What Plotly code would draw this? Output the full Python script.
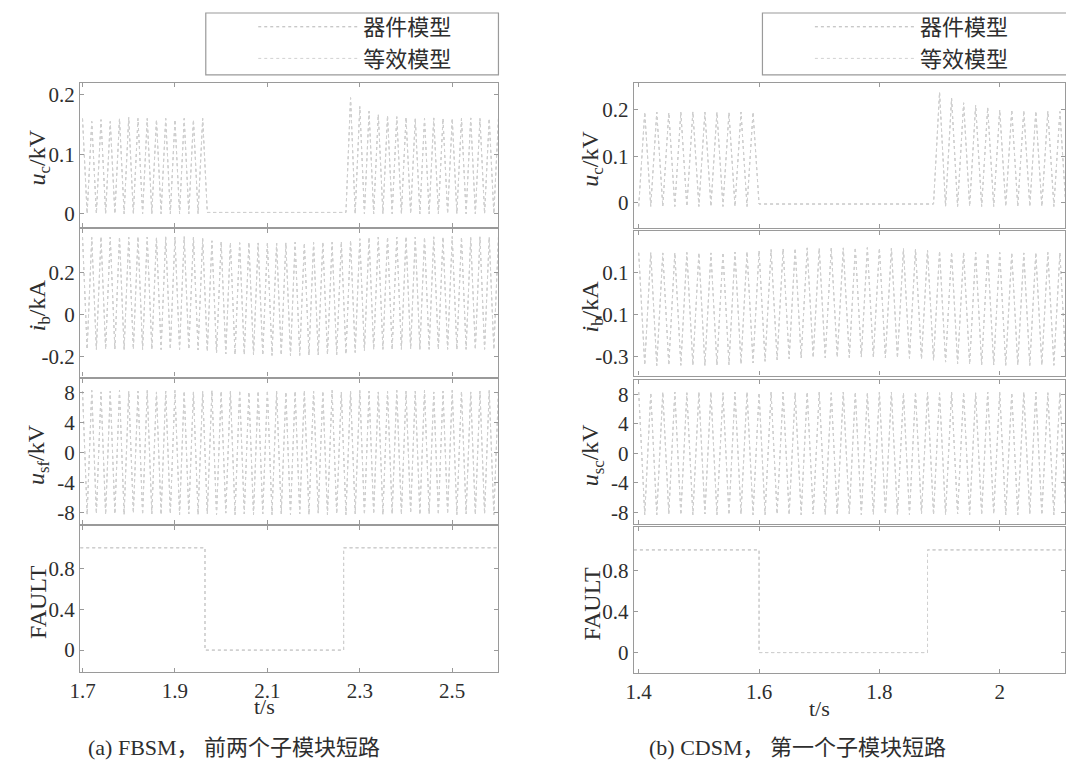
import plotly.graph_objects as go

W, H = 1066, 761

# ---------------- data ----------------
# (a) FBSM : time grid (s), half-cycle samples (peaks / troughs)
t_a = [1.70, 1.71, 1.72, 1.73, 1.74, 1.75, 1.76, 1.77, 1.78, 1.79,
       1.80, 1.81, 1.82, 1.83, 1.84, 1.85, 1.86, 1.87, 1.88, 1.89,
       1.90, 1.91, 1.92, 1.93, 1.94, 1.95, 1.96, 1.97, 1.98, 1.99,
       2.00, 2.01, 2.02, 2.03, 2.04, 2.05, 2.06, 2.07, 2.08, 2.09,
       2.10, 2.11, 2.12, 2.13, 2.14, 2.15, 2.16, 2.17, 2.18, 2.19,
       2.20, 2.21, 2.22, 2.23, 2.24, 2.25, 2.26, 2.27, 2.28, 2.29,
       2.30, 2.31, 2.32, 2.33, 2.34, 2.35, 2.36, 2.37, 2.38, 2.39,
       2.40, 2.41, 2.42, 2.43, 2.44, 2.45, 2.46, 2.47, 2.48, 2.49,
       2.50, 2.51, 2.52, 2.53, 2.54, 2.55, 2.56, 2.57, 2.58, 2.59,
       2.60]
uc_a = [0.160, 0, 0.155, 0, 0.158, 0, 0.155, 0, 0.160, 0,
        0.162, 0, 0.160, 0, 0.160, 0, 0.158, 0, 0.160, 0,
        0.158, 0, 0.160, 0, 0.158, 0, 0.160, 0.002, 0.002, 0.002,
        0.002, 0.002, 0.002, 0.002, 0.002, 0.002, 0.002, 0.002, 0.002, 0.002,
        0.002, 0.002, 0.002, 0.002, 0.002, 0.002, 0.002, 0.002, 0.002, 0.002,
        0.002, 0.002, 0.002, 0.002, 0.002, 0.002, 0.002, 0.002, 0.195, 0,
        0.180, 0, 0.172, 0, 0.167, 0, 0.165, 0, 0.163, 0,
        0.162, 0, 0.160, 0, 0.160, 0, 0.161, 0, 0.160, 0,
        0.160, 0, 0.160, 0, 0.161, 0, 0.160, 0, 0.160, 0,
        0.160]
ib_a = [0.370, -0.165, 0.368, -0.166, 0.372, -0.165, 0.370, -0.164, 0.371, -0.166,
        0.369, -0.165, 0.372, -0.166, 0.370, -0.165, 0.368, -0.166, 0.371, -0.165,
        0.370, -0.166, 0.372, -0.165, 0.370, -0.168, 0.365, -0.175, 0.352, -0.183,
        0.348, -0.187, 0.345, -0.190, 0.343, -0.191, 0.345, -0.192, 0.342, -0.193,
        0.344, -0.194, 0.341, -0.193, 0.343, -0.195, 0.345, -0.194, 0.342, -0.193,
        0.344, -0.192, 0.346, -0.190, 0.345, -0.191, 0.348, -0.188, 0.355, -0.180,
        0.362, -0.172, 0.368, -0.167, 0.370, -0.165, 0.371, -0.166, 0.370, -0.165,
        0.372, -0.164, 0.370, -0.166, 0.369, -0.165, 0.371, -0.166, 0.370, -0.165,
        0.372, -0.166, 0.370, -0.165, 0.368, -0.166, 0.371, -0.165, 0.370, -0.166,
        0.370]
usf_a = [8.2, -8.3, 8.3, -8.2, 8.1, -8.3, 8.2, -8.2, 8.3, -8.3,
         8.2, -8.1, 8.2, -8.3, 8.3, -8.2, 8.1, -8.3, 8.2, -8.2,
         8.3, -8.3, 8.2, -8.2, 8.1, -8.3, 8.2, -8.2, 8.3, -8.3,
         8.2, -8.1, 8.2, -8.3, 8.3, -8.2, 8.1, -8.3, 8.2, -8.2,
         8.3, -8.3, 8.2, -8.2, 8.1, -8.3, 8.2, -8.2, 8.3, -8.3,
         8.2, -8.1, 8.2, -8.3, 8.3, -8.2, 8.1, -8.3, 8.2, -8.2,
         8.3, -8.3, 8.2, -8.2, 8.1, -8.3, 8.2, -8.2, 8.3, -8.3,
         8.2, -8.1, 8.2, -8.3, 8.3, -8.2, 8.1, -8.3, 8.2, -8.2,
         8.3, -8.3, 8.2, -8.2, 8.1, -8.3, 8.2, -8.2, 8.3, -8.3,
         8.2]
fault_t_a = [1.695, 1.965, 1.965, 2.265, 2.265, 2.600]
fault_v_a = [1, 1, 0, 0, 1, 1]

# (b) CDSM
t_b = [1.40, 1.41, 1.42, 1.43, 1.44, 1.45, 1.46, 1.47, 1.48, 1.49,
       1.50, 1.51, 1.52, 1.53, 1.54, 1.55, 1.56, 1.57, 1.58, 1.59,
       1.60, 1.61, 1.62, 1.63, 1.64, 1.65, 1.66, 1.67, 1.68, 1.69,
       1.70, 1.71, 1.72, 1.73, 1.74, 1.75, 1.76, 1.77, 1.78, 1.79,
       1.80, 1.81, 1.82, 1.83, 1.84, 1.85, 1.86, 1.87, 1.88, 1.89,
       1.90, 1.91, 1.92, 1.93, 1.94, 1.95, 1.96, 1.97, 1.98, 1.99,
       2.00, 2.01, 2.02, 2.03, 2.04, 2.05, 2.06, 2.07, 2.08, 2.09,
       2.10, 2.11]
uc_b = [-0.008, 0.195, -0.008, 0.195, -0.008, 0.194, -0.008, 0.195, -0.008, 0.196,
        -0.008, 0.195, -0.008, 0.195, -0.008, 0.194, -0.008, 0.195, -0.008, 0.195,
        -0.003, -0.003, -0.003, -0.003, -0.003, -0.003, -0.003, -0.003, -0.003, -0.003,
        -0.003, -0.003, -0.003, -0.003, -0.003, -0.003, -0.003, -0.003, -0.003, -0.003,
        -0.003, -0.003, -0.003, -0.003, -0.003, -0.003, -0.003, -0.003, -0.003, -0.003,
        0.238, -0.008, 0.225, -0.008, 0.215, -0.008, 0.210, -0.008, 0.205, -0.008,
        0.200, -0.008, 0.200, -0.008, 0.198, -0.008, 0.197, -0.008, 0.197, -0.008,
        0.196, -0.008]
ib_b = [0.195, -0.340, 0.196, -0.342, 0.194, -0.340, 0.195, -0.341, 0.196, -0.340,
        0.195, -0.342, 0.194, -0.340, 0.196, -0.338, 0.198, -0.335, 0.200, -0.330,
        0.205, -0.322, 0.210, -0.315, 0.214, -0.310, 0.216, -0.306, 0.218, -0.304,
        0.217, -0.305, 0.219, -0.303, 0.218, -0.304, 0.220, -0.302, 0.219, -0.303,
        0.218, -0.305, 0.217, -0.306, 0.215, -0.308, 0.212, -0.312, 0.208, -0.318,
        0.203, -0.326, 0.199, -0.333, 0.197, -0.337, 0.196, -0.339, 0.195, -0.340,
        0.196, -0.341, 0.195, -0.340, 0.194, -0.342, 0.195, -0.340, 0.196, -0.341,
        0.195, -0.340]
usc_b = [8.3, -8.3, 8.2, -8.3, 8.3, -8.2, 8.3, -8.3, 8.2, -8.3,
         8.3, -8.2, 8.3, -8.3, 8.2, -8.3, 8.3, -8.2, 8.3, -8.3,
         8.2, -8.3, 8.3, -8.2, 8.3, -8.3, 8.2, -8.3, 8.3, -8.2,
         8.3, -8.3, 8.2, -8.3, 8.3, -8.2, 8.3, -8.3, 8.2, -8.3,
         8.3, -8.2, 8.3, -8.3, 8.2, -8.3, 8.3, -8.2, 8.3, -8.3,
         8.2, -8.3, 8.3, -8.2, 8.3, -8.3, 8.2, -8.3, 8.3, -8.2,
         8.3, -8.3, 8.2, -8.3, 8.3, -8.2, 8.3, -8.3, 8.2, -8.3,
         8.3, -8.2]
fault_t_b = [1.392, 1.600, 1.600, 1.880, 1.880, 2.110]
fault_v_b = [1, 1, 0, 0, 1, 1]

series_names = ["器件模型", "等效模型"]

# tick labels
xt_a = [1.7, 1.9, 2.1, 2.3, 2.5]
xt_a_txt = ["1.7", "1.9", "2.1", "2.3", "2.5"]
xt_b = [1.4, 1.6, 1.8, 2.0]
xt_b_txt = ["1.4", "1.6", "1.8", "2"]
yt_uc = [0, 0.1, 0.2]
yt_uc_txt = ["0", "0.1", "0.2"]
yt_ib_a = [-0.2, 0, 0.2]
yt_ib_a_txt = ["-0.2", "0", "0.2"]
yt_ib_b = [-0.3, -0.1, 0.1]
yt_ib_b_txt = ["-0.3", "-0.1", "0.1"]
yt_us = [-8, -4, 0, 4, 8]
yt_us_txt = ["-8", "-4", "0", "4", "8"]
yt_f = [0, 0.4, 0.8]
yt_f_txt = ["0", "0.4", "0.8"]

# ---------------- styling / layout ----------------
SERIF = "Liberation Serif"
CJK = "Liberation Serif, Noto Sans CJK SC"
TXT = "#2e2e2e"
FRAME = "#9a9a9a"
C_DEV = "#b3b3b3"
C_EQ = "#d2d2d2"


def ydom(top, bottom):
    return [1 - bottom / H, 1 - top / H]


panels = [
    # side, x, y, yrange, yticks, yticktext, ydomain(px), ylabel
    ("a", t_a, uc_a, [-0.022, 0.22], yt_uc, yt_uc_txt, (83, 227), "<i>u</i><sub>c</sub>/kV"),
    ("a", t_a, ib_a, [-0.295, 0.41], yt_ib_a, yt_ib_a_txt, (229, 377), "<i>i</i><sub>b</sub>/kA"),
    ("a", t_a, usf_a, [-9.6, 9.9], yt_us, yt_us_txt, (379, 525), "<i>u</i><sub>sf</sub>/kV"),
    ("a", fault_t_a, fault_v_a, [-0.215, 1.21], yt_f, yt_f_txt, (527, 673), "FAULT"),
    ("b", t_b, uc_b, [-0.054, 0.258], yt_uc, yt_uc_txt, (83, 228), "<i>u</i><sub>c</sub>/kV"),
    ("b", t_b, ib_b, [-0.39, 0.30], yt_ib_b, yt_ib_b_txt, (231, 376), "<i>i</i><sub>b</sub>/kA"),
    ("b", t_b, usc_b, [-9.6, 10.0], yt_us, yt_us_txt, (380, 525), "<i>u</i><sub>sc</sub>/kV"),
    ("b", fault_t_b, fault_v_b, [-0.2, 1.22], yt_f, yt_f_txt, (528, 674), "FAULT"),
]

side_cfg = {
    "a": dict(xdom=[70 / W, 493 / W], xrange=[1.695, 2.6], xt=xt_a, xtt=xt_a_txt,
              title_x=28, legend="legend"),
    "b": dict(xdom=[630 / W, 1.0], xrange=[1.392, 2.1085], xt=xt_b, xtt=xt_b_txt,
              title_x=588, legend="legend2"),
}

fig = go.Figure()
layout = dict(
    width=W, height=H, autosize=False,
    margin=dict(l=0, r=0, t=0, b=0),
    paper_bgcolor="white", plot_bgcolor="white",
    font=dict(family=SERIF, size=21, color=TXT),
    annotations=[], shapes=[],
)

for i, (side, xs, ys, yr, ytv, ytt, (ptop, pbot), ylab) in enumerate(panels, start=1):
    cfg = side_cfg[side]
    first = (i in (1, 5))
    for j, (name, col) in enumerate([(series_names[0], C_DEV), (series_names[1], C_EQ)]):
        fig.add_trace(go.Scatter(
            x=xs, y=ys, mode="lines", name=name,
            line=dict(color=col, width=1, dash="dot"),
            xaxis=f"x{i}", yaxis=f"y{i}",
            showlegend=first, legend=cfg["legend"],
            hoverinfo="skip",
        ))
    is_bottom = i in (4, 8)
    layout[f"xaxis{i}"] = dict(
        domain=cfg["xdom"], range=cfg["xrange"], anchor=f"y{i}",
        showline=True, mirror="ticks", linecolor=FRAME, linewidth=1.3,
        ticks="inside", ticklen=4, tickcolor=FRAME,
        tickvals=cfg["xt"], ticktext=cfg["xtt"], showticklabels=is_bottom,
        tickfont=dict(family=SERIF, size=21, color=TXT),
        showgrid=False, zeroline=False,
    )
    layout[f"yaxis{i}"] = dict(
        domain=ydom(ptop, pbot), range=yr, anchor=f"x{i}",
        showline=True, mirror="ticks", linecolor=FRAME, linewidth=1.3,
        ticks="inside", ticklen=4, tickcolor=FRAME,
        tickvals=ytv, ticktext=ytt,
        tickfont=dict(family=SERIF, size=21, color=TXT),
        showgrid=False, zeroline=False,
    )
    layout["annotations"].append(dict(
        text=ylab, textangle=-90, showarrow=False,
        xref="paper", yref="paper",
        x=cfg["title_x"] / W, y=1 - ((ptop + pbot) / 2 + 3) / H,
        xanchor="center", yanchor="middle",
        font=dict(family=SERIF, size=24, color=TXT),
    ))

# x-axis titles
layout["annotations"].append(dict(text="t/s", showarrow=False, xref="paper", yref="paper",
                                  x=256 / W, y=1 - 707 / H, xanchor="center", yanchor="middle",
                                  font=dict(family=SERIF, size=22, color=TXT)))
layout["annotations"].append(dict(text="t/s", showarrow=False, xref="paper", yref="paper",
                                  x=818 / W, y=1 - 709 / H, xanchor="center", yanchor="middle",
                                  font=dict(family=SERIF, size=22, color=TXT)))
# captions
layout["annotations"].append(dict(text="(a) FBSM， 前两个子模块短路", showarrow=False,
                                  xref="paper", yref="paper", x=226 / W, y=1 - 748 / H,
                                  xanchor="center", yanchor="middle",
                                  font=dict(family=CJK, size=22, color=TXT)))
layout["annotations"].append(dict(text="(b) CDSM， 第一个子模块短路", showarrow=False,
                                  xref="paper", yref="paper", x=795 / W, y=1 - 748 / H,
                                  xanchor="center", yanchor="middle",
                                  font=dict(family=CJK, size=22, color=TXT)))

# legend frames
for x0, x1 in [(197, 493), (760, 1070)]:
    layout["shapes"].append(dict(type="rect", xref="paper", yref="paper",
                                 x0=x0 / W, x1=x1 / W, y0=1 - 75 / H, y1=1 - 13 / H,
                                 line=dict(color=FRAME, width=1.2), fillcolor="rgba(0,0,0,0)"))

leg_common = dict(xanchor="left", yanchor="top", bgcolor="rgba(0,0,0,0)", borderwidth=0,
                  font=dict(family="Noto Sans CJK SC", size=22, color=TXT),
                  itemwidth=100, tracegroupgap=0, itemclick=False)
layout["legend"] = dict(x=245 / W, y=1 - 6 / H, **leg_common)
layout["legend2"] = dict(x=808 / W, y=1 - 6 / H, **leg_common)

fig.update_layout(**layout)
fig.write_html("out.html")
